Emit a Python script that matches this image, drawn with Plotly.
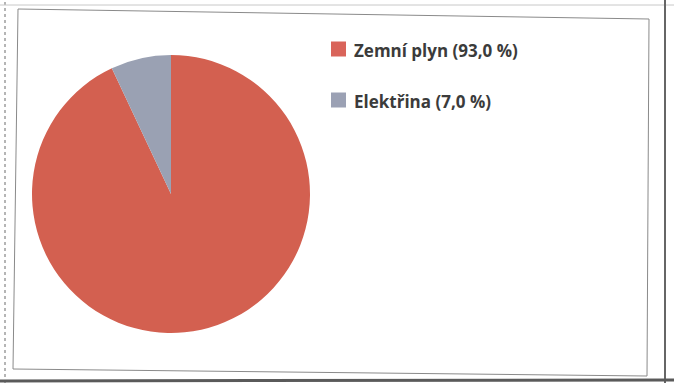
import plotly.graph_objects as go

# Energy mix shares
labels = ["Zemní plyn", "Elektřina"]
shares = [93.0, 7.0]
colors = ["#D36050", "#9AA1B3"]
legend_colors = ["#D9645A", "#9BA1B4"]

W, H = 674, 383


def px(x):
    return x / W


def py(y):
    return 1 - y / H


fig = go.Figure()

fig.add_trace(go.Pie(
    labels=labels,
    values=shares,
    marker=dict(colors=colors, line=dict(width=0)),
    sort=False,
    direction="clockwise",
    rotation=0,
    textinfo="none",
    hoverinfo="label+percent",
    showlegend=False,
    domain=dict(x=[px(32), px(310)], y=[py(333), py(55)]),
))

shapes = []
annotations = []

# Frame around the chart area (slightly skewed box) and outer page edges
shapes.append(dict(type="path", xref="paper", yref="paper",
                   path=f"M {px(18)} {py(9)} L {px(649)} {py(19)} L {px(647)} {py(376)} L {px(13)} {py(369)} Z",
                   line=dict(color="#8a8a8a", width=1)))
shapes.append(dict(type="line", xref="paper", yref="paper",
                   x0=px(5), x1=px(5), y0=0, y1=1,
                   line=dict(color="#b5b5b5", width=2, dash="dot")))
shapes.append(dict(type="line", xref="paper", yref="paper",
                   x0=0, x1=1, y0=py(5), y1=py(5),
                   line=dict(color="#c8c8c8", width=1)))
shapes.append(dict(type="line", xref="paper", yref="paper",
                   x0=px(665), x1=px(665), y0=0, y1=1,
                   line=dict(color="#666666", width=2)))
shapes.append(dict(type="line", xref="paper", yref="paper",
                   x0=0, x1=1, y0=py(381), y1=py(380),
                   line=dict(color="#5a5a5a", width=3)))

# Legend: colour squares with labels stating each share
for i, (lab, val) in enumerate(zip(labels, shares)):
    cy = 49 + i * 51
    shapes.append(dict(type="rect", xref="paper", yref="paper",
                       x0=px(331), x1=px(346), y0=py(cy + 7.5), y1=py(cy - 7.5),
                       fillcolor=legend_colors[i], line=dict(width=0)))
    text = f"{lab} ({val:.1f} %)".replace(".", ",")
    annotations.append(dict(xref="paper", yref="paper",
                            x=px(352), y=py(cy + 1.5), xanchor="left", yanchor="middle",
                            text=f"<b>{text}</b>", showarrow=False,
                            font=dict(family="Open Sans", size=17, color="#3b3b3b")))

fig.update_layout(
    width=W, height=H,
    margin=dict(l=0, r=0, t=0, b=0),
    paper_bgcolor="white",
    plot_bgcolor="white",
    shapes=shapes,
    annotations=annotations,
)

fig.write_html("out.html")
